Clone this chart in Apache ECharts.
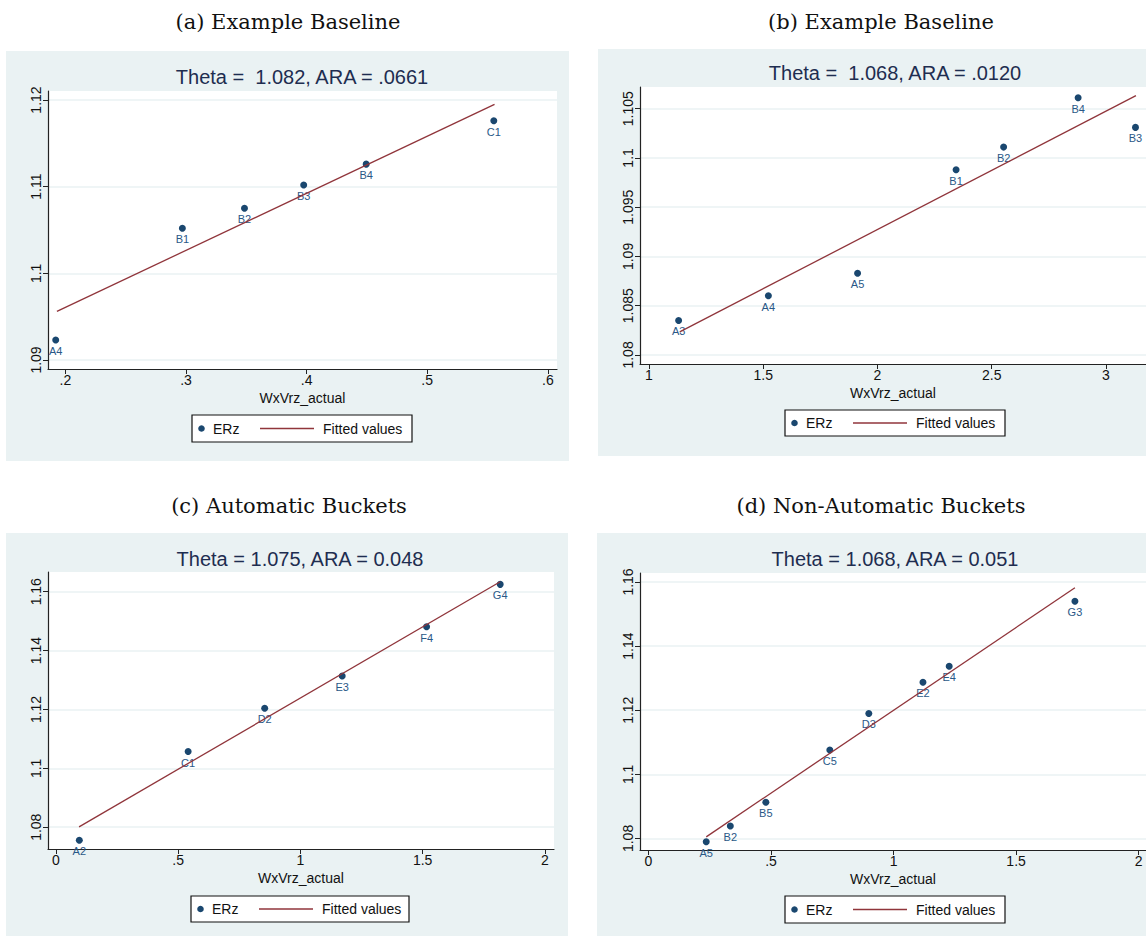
<!DOCTYPE html>
<html>
<head>
<meta charset="utf-8">
<script src="https://cdn.jsdelivr.net/npm/echarts@6/dist/echarts.min.js"></script>
<style>
html,body{margin:0;padding:0;background:#ffffff;}
#chart{width:1146px;height:936px;}
</style>
</head>
<body>
<div id="chart"></div>
<script>
// ---------- Data ----------
const captions = ['(a) Example Baseline', '(b) Example Baseline', '(c) Automatic Buckets', '(d) Non-Automatic Buckets'];
const innerTitles = ['Theta =  1.082, ARA = .0661', 'Theta =  1.068, ARA = .0120', 'Theta = 1.075, ARA = 0.048', 'Theta = 1.068, ARA = 0.051'];
const xAxisName = 'WxVrz_actual';
const legendNames = ['ERz', 'Fitted values'];

// Panel (a)
const labelsA = ['A4', 'B1', 'B2', 'B3', 'B4', 'C1'];
const xA = [0.192, 0.297, 0.3485, 0.3976, 0.4494, 0.5552];
const yA = [1.0923, 1.1052, 1.1075, 1.1102, 1.1126, 1.1176];
const fitXA = [0.193, 0.5558];
const fitYA = [1.0956, 1.1195];
const xTicksA = [0.2, 0.3, 0.4, 0.5, 0.6];
const xTickLabelsA = ['.2', '.3', '.4', '.5', '.6'];
const yTicksA = [1.09, 1.10, 1.11, 1.12];
const yTickLabelsA = ['1.09', '1.1', '1.11', '1.12'];

// Panel (b)
const labelsB = ['A3', 'A4', 'A5', 'B1', 'B2', 'B4', 'B3'];
const xB = [1.130, 1.5226, 1.913, 2.344, 2.552, 2.878, 3.129];
const yB = [1.0835, 1.0860, 1.0883, 1.0988, 1.1011, 1.1061, 1.1031];
const fitXB = [1.135, 3.131];
const fitYB = [1.08234, 1.10632];
const xTicksB = [1, 1.5, 2, 2.5, 3];
const xTickLabelsB = ['1', '1.5', '2', '2.5', '3'];
const yTicksB = [1.08, 1.085, 1.09, 1.095, 1.10, 1.105];
const yTickLabelsB = ['1.08', '1.085', '1.09', '1.095', '1.1', '1.105'];

// Panel (c)
const labelsC = ['A2', 'C1', 'D2', 'E3', 'F4', 'G4'];
const xC = [0.096, 0.541, 0.854, 1.171, 1.516, 1.817];
const yC = [1.0756, 1.1057, 1.1204, 1.1314, 1.1481, 1.1625];
const fitXC = [0.095, 1.817];
const fitYC = [1.0801, 1.1634];
const xTicksC = [0, 0.5, 1, 1.5, 2];
const xTickLabelsC = ['0', '.5', '1', '1.5', '2'];
const yTicksC = [1.08, 1.10, 1.12, 1.14, 1.16];
const yTickLabelsC = ['1.08', '1.1', '1.12', '1.14', '1.16'];

// Panel (d)
const labelsD = ['A5', 'B2', 'B5', 'C5', 'D3', 'E2', 'E4', 'G3'];
const xD = [0.2357, 0.334, 0.479, 0.740, 0.899, 1.120, 1.227, 1.740];
const yD = [1.079, 1.0839, 1.0913, 1.1076, 1.119, 1.1287, 1.1337, 1.154];
const fitXD = [0.2357, 1.740];
const fitYD = [1.0805, 1.1582];
const xTicksD = [0, 0.5, 1, 1.5, 2];
const xTickLabelsD = ['0', '.5', '1', '1.5', '2'];
const yTicksD = [1.08, 1.10, 1.12, 1.14, 1.16];
const yTickLabelsD = ['1.08', '1.1', '1.12', '1.14', '1.16'];

// ---------- Layout / style ----------
const BG = '#eaf2f3';
const NAVY = '#1a476f';
const MAROON = '#90353b';
const TITLE_COLOR = '#1e2d50';
const AXIS_COLOR = '#222222';
const SANS = '"Liberation Sans", Arial, sans-serif';
const SERIF = '"DejaVu Serif", serif';

const panels = [
  { labels: labelsA, x: xA, y: yA, fx: fitXA, fy: fitYA, xt: xTicksA, xtl: xTickLabelsA, yt: yTicksA, ytl: yTickLabelsA,
    xr: [0.1856, 0.6076], yr: [1.08896, 1.12104], grid: {left: 48, top: 91, width: 509, height: 278},
    bg: [6, 51, 563, 410], cap: [288, 22], title: [302, 77], legend: [192, 415, 220, 27] },
  { labels: labelsB, x: xB, y: yB, fx: fitXB, fy: fitYB, xt: xTicksB, xtl: xTickLabelsB, yt: yTicksB, ytl: yTickLabelsB,
    xr: [0.961, 3.175], yr: [1.07908, 1.1072], grid: {left: 640, top: 87, width: 506, height: 277},
    bg: [598, 49, 548, 407], cap: [881, 22], title: [895, 73], legend: [785, 410, 220, 26] },
  { labels: labelsC, x: xC, y: yC, fx: fitXC, fy: fitYC, xt: xTicksC, xtl: xTickLabelsC, yt: yTicksC, ytl: yTickLabelsC,
    xr: [-0.032, 2.037], yr: [1.0726, 1.1667], grid: {left: 48, top: 572, width: 506, height: 277},
    bg: [6, 533, 562, 403], cap: [289, 506], title: [300, 559], legend: [191, 896, 218, 26] },
  { labels: labelsD, x: xD, y: yD, fx: fitXD, fy: fitYD, xt: xTicksD, xtl: xTickLabelsD, yt: yTicksD, ytl: yTickLabelsD,
    xr: [-0.0345, 2.03], yr: [1.0764, 1.1628], grid: {left: 640, top: 573, width: 506, height: 277},
    bg: [597, 533, 549, 403], cap: [881, 506], title: [895, 559], legend: [785, 896, 220, 27] }
];

function labelFor(ticks, labels) {
  return function (v) {
    for (let i = 0; i < ticks.length; i++) {
      if (Math.abs(ticks[i] - v) < 1e-7) return labels[i];
    }
    return '';
  };
}

const grids = [], xAxes = [], yAxes = [], series = [], graphics = [];

panels.forEach(function (p, i) {
  graphics.push({ type: 'rect', z: -10, silent: true,
    shape: { x: p.bg[0], y: p.bg[1], width: p.bg[2], height: p.bg[3] },
    style: { fill: BG } });
  graphics.push({ type: 'text', z: 5, silent: true, x: p.cap[0], y: p.cap[1],
    style: { text: captions[i], font: '21px ' + SERIF, fill: '#111111', align: 'center', verticalAlign: 'middle',
      textAlign: 'center', textVerticalAlign: 'middle' } });
  graphics.push({ type: 'text', z: 5, silent: true, x: p.title[0], y: p.title[1],
    style: { text: innerTitles[i], font: '20px ' + SANS, fill: TITLE_COLOR, align: 'center', verticalAlign: 'middle',
      textAlign: 'center', textVerticalAlign: 'middle', whiteSpace: 'pre' } });
  const L = p.legend;
  const cy = L[1] + L[3] / 2;
  graphics.push({ type: 'rect', z: 20, silent: true,
    shape: { x: L[0], y: L[1], width: L[2], height: L[3] },
    style: { fill: '#ffffff', stroke: '#111111', lineWidth: 1.2 } });
  graphics.push({ type: 'circle', z: 21, silent: true,
    shape: { cx: L[0] + 9.5, cy: cy, r: 3.3 }, style: { fill: NAVY } });
  graphics.push({ type: 'text', z: 21, silent: true, x: L[0] + 21, y: cy,
    style: { text: legendNames[0], font: '14px ' + SANS, fill: '#111111', align: 'left', verticalAlign: 'middle',
      textAlign: 'left', textVerticalAlign: 'middle' } });
  graphics.push({ type: 'line', z: 21, silent: true,
    shape: { x1: L[0] + 68, y1: cy, x2: L[0] + 122, y2: cy }, style: { stroke: MAROON, lineWidth: 1.3 } });
  graphics.push({ type: 'text', z: 21, silent: true, x: L[0] + 131, y: cy,
    style: { text: legendNames[1], font: '14px ' + SANS, fill: '#111111', align: 'left', verticalAlign: 'middle',
      textAlign: 'left', textVerticalAlign: 'middle' } });

  grids.push(Object.assign({ show: true, backgroundColor: '#ffffff', borderWidth: 0, containLabel: false,
    outerBoundsMode: 'none' }, p.grid));

  xAxes.push({
    type: 'value', gridIndex: i, min: p.xr[0], max: p.xr[1],
    name: xAxisName, nameLocation: 'middle', nameGap: 22, nameMoveOverlap: false,
    nameTextStyle: { fontFamily: SANS, fontSize: 14, color: '#111111' },
    axisLine: { show: true, onZero: false, lineStyle: { color: AXIS_COLOR, width: 1.2 } },
    axisTick: { show: true, inside: false, length: 5, customValues: p.xt, lineStyle: { color: AXIS_COLOR, width: 1 } },
    axisLabel: { show: true, customValues: p.xt, margin: 4, fontFamily: SANS, fontSize: 14, color: '#111111',
      formatter: labelFor(p.xt, p.xtl), showMinLabel: true, showMaxLabel: true, hideOverlap: false },
    splitLine: { show: false }
  });
  yAxes.push({
    type: 'value', gridIndex: i, min: p.yr[0], max: p.yr[1],
    axisLine: { show: true, onZero: false, lineStyle: { color: AXIS_COLOR, width: 1.2 } },
    axisTick: { show: true, inside: false, length: 5, customValues: p.yt, lineStyle: { color: AXIS_COLOR, width: 1 } },
    axisLabel: { show: true, customValues: p.yt, rotate: 90, margin: 5, fontFamily: SANS, fontSize: 14, color: '#111111',
      formatter: labelFor(p.yt, p.ytl), showMinLabel: true, showMaxLabel: true, hideOverlap: false },
    splitLine: { show: true, lineStyle: { color: BG, width: 1.5 } }
  });

  series.push({
    type: 'scatter', name: legendNames[0], xAxisIndex: i, yAxisIndex: i, z: 3,
    symbol: 'circle', symbolSize: 7, itemStyle: { color: NAVY, opacity: 1 },
    label: { show: true, position: 'bottom', distance: 2, fontFamily: SANS, fontSize: 11, color: '#2a5887',
      formatter: function (d) { return d.name; } },
    labelLayout: { hideOverlap: false },
    emphasis: { disabled: true },
    data: p.x.map(function (xv, k) { return { name: p.labels[k], value: [xv, p.y[k]] }; })
  });
  series.push({
    type: 'line', name: legendNames[1], xAxisIndex: i, yAxisIndex: i, z: 4,
    symbol: 'none', showSymbol: false, lineStyle: { color: MAROON, width: 1.3 },
    emphasis: { disabled: true }, silent: true,
    data: p.fx.map(function (xv, k) { return [xv, p.fy[k]]; })
  });
});

const chart = echarts.init(document.getElementById('chart'), null, { renderer: 'svg', width: 1146, height: 936 });
chart.setOption({
  backgroundColor: '#ffffff',
  animation: false,
  textStyle: { fontFamily: SANS },
  grid: grids,
  xAxis: xAxes,
  yAxis: yAxes,
  series: series,
  graphic: { elements: graphics }
});
</script>
</body>
</html>
